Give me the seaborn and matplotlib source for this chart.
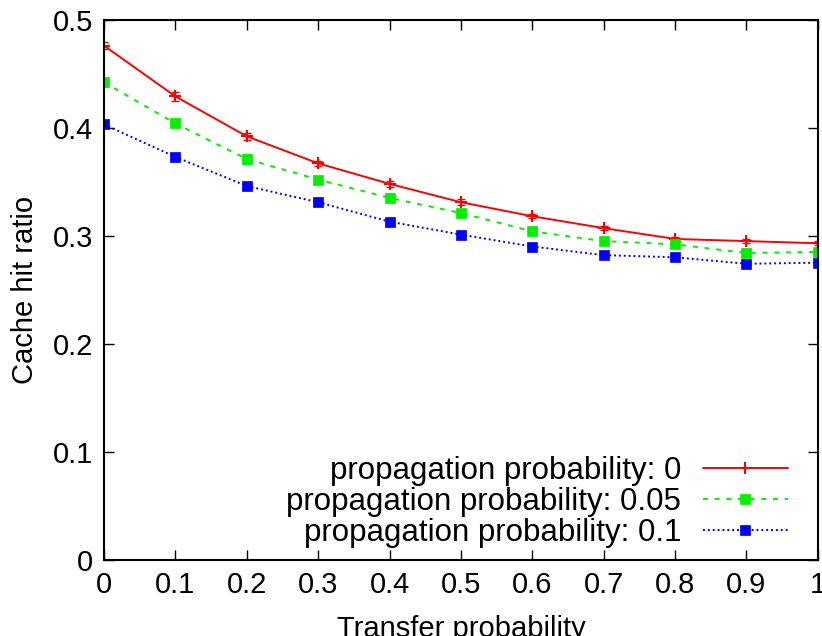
import numpy as np
import pandas as pd
import seaborn as sns
import matplotlib.pyplot as plt

transfer = [0, 0.1, 0.2, 0.3, 0.4, 0.5, 0.6, 0.7, 0.8, 0.9, 1.0]
hit_p0 = [0.476, 0.429, 0.392, 0.367, 0.348, 0.331, 0.318, 0.307, 0.297, 0.295, 0.293]
hit_p005 = [0.442, 0.404, 0.371, 0.352, 0.335, 0.321, 0.304, 0.295, 0.292, 0.284, 0.285]
hit_p01 = [0.403, 0.373, 0.346, 0.331, 0.313, 0.301, 0.290, 0.282, 0.280, 0.274, 0.275]
err_p0 = [0.003, 0.004, 0.003, 0.002, 0.003, 0.003, 0.002, 0.002, 0.002, 0.002, 0.002]
err_p005 = [0.003, 0.003, 0.005, 0.003, 0.004, 0.003, 0.003, 0.002, 0.002, 0.003, 0.002]
err_p01 = [0.002, 0.002, 0.002, 0.002, 0.002, 0.002, 0.002, 0.002, 0.002, 0.002, 0.002]
labels = ["propagation probability: 0", "propagation probability: 0.05",
          "propagation probability: 0.1"]

sns.set_style("ticks")
plt.rcParams['font.family'] = ['Liberation Sans Narrow', 'Liberation Sans', 'DejaVu Sans']
plt.rcParams['text.color'] = 'black'
plt.rcParams['axes.labelcolor'] = 'black'
plt.rcParams['xtick.color'] = 'black'
plt.rcParams['ytick.color'] = 'black'
plt.rcParams['axes.edgecolor'] = 'black'

df = pd.DataFrame({
    'Transfer probability': transfer * 3,
    'Cache hit ratio': hit_p0 + hit_p005 + hit_p01,
    'series': [labels[0]] * 11 + [labels[1]] * 11 + [labels[2]] * 11,
})

fig, ax = plt.subplots(figsize=(8.22, 6.36), dpi=100)
fig.subplots_adjust(left=0.1265, right=0.995, top=0.969, bottom=0.12)

colors = ['#ff0000', '#00f000', '#0000ff']
dashes = [None, (2.5, 3.5), (1, 1.5)]
markers = ['+', 's', 's']
values = [hit_p0, hit_p005, hit_p01]
errors = [err_p0, err_p005, err_p01]

for i, lab in enumerate(labels):
    sub = df[df['series'] == lab]
    sns.lineplot(data=sub, x='Transfer probability', y='Cache hit ratio', ax=ax,
                 color=colors[i], linewidth=1.4, marker=markers[i],
                 markersize=7 if i else 9, markeredgewidth=1.5 if i == 0 else 0.5,
                 markeredgecolor=colors[i], label=lab)
    if dashes[i] is not None:
        ax.lines[-1].set_dashes(dashes[i])
    ax.errorbar(transfer, values[i], yerr=errors[i],
                fmt='none', ecolor=colors[i], elinewidth=1.2, capsize=3)

ax.set_xlim(0, 1)
ax.set_ylim(0, 0.5)
ax.set_xticks(transfer)
ax.set_xticklabels(['0', '0.1', '0.2', '0.3', '0.4', '0.5', '0.6', '0.7', '0.8', '0.9', '1'])
ax.set_yticks([0, 0.1, 0.2, 0.3, 0.4, 0.5])
ax.set_yticklabels(['0', '0.1', '0.2', '0.3', '0.4', '0.5'])
ax.tick_params(direction='in', top=True, right=True, length=7, width=1, labelsize=21, pad=8)
for s in ax.spines.values():
    s.set_linewidth(1.5)
ax.set_xlabel('Transfer probability', fontsize=21, labelpad=12)
ax.set_ylabel('Cache hit ratio', fontsize=21, labelpad=10)

leg = ax.legend(loc='lower right', bbox_to_anchor=(0.986, -0.016), frameon=False,
                markerfirst=False, fontsize=22.5, handlelength=2.7, labelspacing=0.03,
                borderaxespad=0.25, handletextpad=0.7)
for t in leg.get_texts():
    t.set_ha('right')

plt.savefig('out.png', dpi=100)
